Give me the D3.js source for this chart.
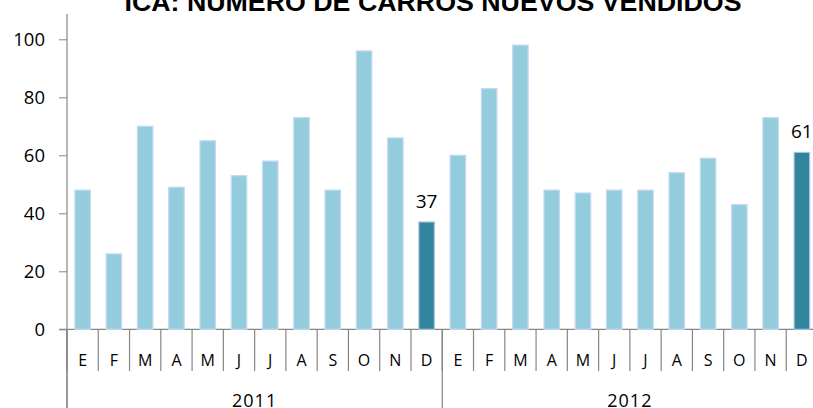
<!DOCTYPE html>
<html>
<head>
<meta charset="utf-8">
<script src="https://cdn.jsdelivr.net/npm/d3@7"></script>
<style>
  html, body { margin: 0; padding: 0; background: #fff; }
  svg { display: block; }
</style>
</head>
<body>
<svg id="chart" width="813" height="408"></svg>
<script>
const title = "ICA: NUMERO DE CARROS NUEVOS VENDIDOS";
const months = ["E","F","M","A","M","J","J","A","S","O","N","D"];
const years = ["2011", "2012"];
const values2011 = [48, 26, 70, 49, 65, 53, 58, 73, 48, 96, 66, 37];
const values2012 = [60, 83, 98, 48, 47, 48, 48, 54, 59, 43, 73, 61];
const yTicks = [0, 20, 40, 60, 80, 100];
const highlight = [{year: "2011", month: 11}, {year: "2012", month: 11}];

const data = [];
years.forEach((yr, yi) => {
  const vals = yi === 0 ? values2011 : values2012;
  months.forEach((m, mi) => {
    data.push({key: yr + "-" + mi, year: yr, mi: mi, month: m, value: vals[mi]});
  });
});

const svg = d3.select("#chart");
const left = 67, right = 817.5, baseY = 329.3, topY = 14;

const x = d3.scaleBand().domain(data.map(d => d.key)).range([left, right]).paddingInner(0).paddingOuter(0);
const y = d3.scaleLinear().domain([0, 100]).range([baseY, 39.3]);
const xYear = d3.scaleBand().domain(years).range([left, right]);

const axisColor = "#868686";
const font = "'Open Sans', Lato, sans-serif";

// title
svg.append("text")
  .attr("x", 433).attr("y", 11)
  .attr("text-anchor", "middle")
  .attr("font-family", "'Liberation Sans', Arial, sans-serif")
  .attr("font-weight", "bold")
  .attr("font-size", 25)
  .attr("textLength", 617)
  .attr("lengthAdjust", "spacingAndGlyphs")
  .attr("fill", "#000")
  .text(title);

// y axis
const yAxis = d3.axisLeft(y).tickValues(yTicks).tickSize(8).tickPadding(14);
const gy = svg.append("g").attr("transform", `translate(${left},0)`).call(yAxis);
gy.select(".domain").remove();
gy.selectAll(".tick line").attr("stroke", axisColor);
gy.selectAll(".tick text").attr("font-family", font).attr("font-size", 18.5).attr("fill", "#000");
svg.append("line").attr("x1", left).attr("x2", left).attr("y1", topY).attr("y2", 408)
  .attr("stroke", axisColor).attr("stroke-width", 1.2);

// baseline
svg.append("line").attr("x1", left - 8).attr("x2", right).attr("y1", baseY).attr("y2", baseY)
  .attr("stroke", axisColor).attr("stroke-width", 1.2);

// bars
const bw = 15.5;
const isHi = d => highlight.some(h => h.year === d.year && h.month === d.mi);
svg.append("g").selectAll("rect").data(data).join("rect")
  .attr("x", d => x(d.key) + x.bandwidth() / 2 - bw / 2)
  .attr("width", bw)
  .attr("y", d => y(d.value))
  .attr("height", d => baseY - y(d.value))
  .attr("fill", d => isHi(d) ? "#31849b" : "#93cddd")
  .attr("stroke", d => isHi(d) ? "#a6c4e0" : "#c6d9f1")
  .attr("stroke-width", 1.2);

// value labels
svg.append("g").selectAll("text").data(data.filter(isHi)).join("text")
  .attr("x", d => x(d.key) + x.bandwidth() / 2)
  .attr("y", d => y(d.value) - 14)
  .attr("text-anchor", "middle")
  .attr("font-family", font).attr("font-size", 19).attr("fill", "#000")
  .text(d => d.value);

// month separators
const seps = data.map(d => x(d.key)).concat([right]);
svg.append("g").selectAll("line").data(seps).join("line")
  .attr("x1", d => d).attr("x2", d => d)
  .attr("y1", baseY).attr("y2", 371)
  .attr("stroke", axisColor).attr("stroke-width", 1.2);

// year separators
const ysep = years.map(yr => xYear(yr)).concat([right]);
svg.append("g").selectAll("line").data(ysep).join("line")
  .attr("x1", d => d).attr("x2", d => d)
  .attr("y1", baseY).attr("y2", 408)
  .attr("stroke", axisColor).attr("stroke-width", 1.2);

// month labels
svg.append("g").selectAll("text").data(data).join("text")
  .attr("x", d => x(d.key) + x.bandwidth() / 2)
  .attr("y", 366)
  .attr("text-anchor", "middle")
  .attr("font-family", font).attr("font-size", 16).attr("fill", "#000")
  .text(d => d.month);

// year labels
svg.append("g").selectAll("text").data(years).join("text")
  .attr("x", d => xYear(d) + xYear.bandwidth() / 2)
  .attr("y", 406.5)
  .attr("text-anchor", "middle")
  .attr("font-family", font).attr("font-size", 18).attr("letter-spacing", 1).attr("fill", "#000")
  .text(d => d);
</script>
</body>
</html>
